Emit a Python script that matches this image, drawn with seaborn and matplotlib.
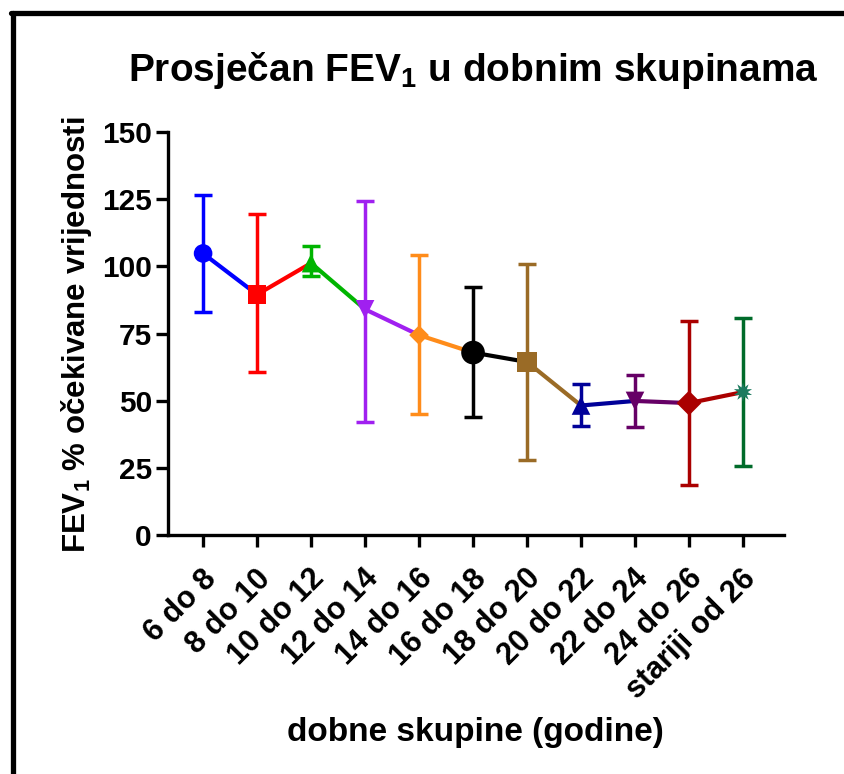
import matplotlib
matplotlib.use("Agg")
import matplotlib.pyplot as plt
import matplotlib.transforms as mtransforms
import seaborn as sns
import pandas as pd
from matplotlib.lines import Line2D

categories = ["6 do 8", "8 do 10", "10 do 12", "12 do 14", "14 do 16", "16 do 18",
              "18 do 20", "20 do 22", "22 do 24", "24 do 26", "stariji od 26"]
mean_vals = [104.8, 89.5, 101.2, 84.0, 74.4, 67.9, 64.4, 48.2, 49.9, 49.1, 53.2]
upper_vals = [126.7, 119.5, 107.5, 124.5, 104.3, 92.4, 100.9, 56.2, 59.6, 79.6, 80.8]
lower_vals = [83.0, 60.7, 96.4, 42.0, 44.9, 43.9, 27.9, 40.6, 40.2, 18.6, 25.8]
y_ticks = [0, 25, 50, 75, 100, 125, 150]

line_colors = ["#0000FF", "#FF0000", "#00B400", "#A020F0", "#FF8C1A", "#000000",
               "#9A6B26", "#000099", "#660066", "#AA0000", "#006B2A"]
marker_colors = ["#0000FF", "#FF0000", "#00B400", "#A020F0", "#FF8C1A", "#000000",
                 "#9A6B26", "#000099", "#660066", "#AA0000", "#1B7A5E"]
marker_shapes = ["o", "s", "^", "v", "D", "o", "s", "^", "v", "D", (10, 1, 0)]
marker_sizes = [180, 180, 180, 180, 100, 290, 220, 180, 180, 160, 190]

sns.set_style("white")
plt.rcParams["font.family"] = ["Liberation Sans", "DejaVu Sans"]
plt.rcParams["font.weight"] = "bold"
for key in ["text.color", "axes.labelcolor", "xtick.color", "ytick.color"]:
    plt.rcParams[key] = "black"
plt.rcParams["mathtext.fontset"] = "custom"
plt.rcParams["mathtext.rm"] = "Liberation Sans:bold"
plt.rcParams["mathtext.it"] = "Liberation Sans:bold"
plt.rcParams["mathtext.bf"] = "Liberation Sans:bold"

fig = plt.figure(figsize=(8.44, 7.74), dpi=100)
ax = fig.add_axes([168 / 844, 1 - 535 / 774, (784 - 168) / 844, (535 - 132) / 774])

x = list(range(len(categories)))
df = pd.DataFrame({"x": x, "mean": mean_vals, "cat": categories})

# error bars
for i in x:
    ax.errorbar([i], [mean_vals[i]],
                yerr=[[mean_vals[i] - lower_vals[i]], [upper_vals[i] - mean_vals[i]]],
                fmt="none", ecolor=line_colors[i], elinewidth=2.5, capsize=6.5,
                capthick=2.5, zorder=3, clip_on=False)

# connecting segments
for i in x[:-1]:
    ax.plot(x[i:i + 2], mean_vals[i:i + 2], color=line_colors[i], lw=3.0,
            zorder=2, solid_capstyle="round")

sns.scatterplot(data=df, x="x", y="mean", hue="cat", style="cat", size="cat",
                palette=dict(zip(categories, marker_colors)),
                markers=dict(zip(categories, marker_shapes)),
                sizes=dict(zip(categories, marker_sizes)),
                edgecolor="none", linewidth=0, legend=False, ax=ax, zorder=4,
                clip_on=False)

ax.set_xlim(-0.65, 10.76)
ax.set_ylim(0, 150)
ax.set_yticks(y_ticks)
ax.set_yticklabels([str(t) for t in y_ticks], fontsize=21.5, fontweight="bold")
ax.set_xticks(x)
ax.set_xticklabels(categories, fontsize=22, fontweight="bold", rotation=45,
                   ha="right", va="top", rotation_mode="anchor")
ax.set_xlabel("")
ax.set_ylabel("")
for s in ["top", "right"]:
    ax.spines[s].set_visible(False)
for s in ["left", "bottom"]:
    ax.spines[s].set_linewidth(2.4)
    ax.spines[s].set_color("black")
ax.tick_params(axis="both", direction="out", length=8.6, width=2.4, color="black",
               left=True, bottom=True)
ax.tick_params(axis="y", pad=3)
ax.tick_params(axis="x", pad=12)
shift = mtransforms.ScaledTranslation(-2 / 100, 0, fig.dpi_scale_trans)
for lab in ax.get_xticklabels():
    lab.set_transform(lab.get_transform() + shift)

fig.text(473 / 844, 1 - 81 / 774, r"Prosječan FEV$_{1}$ u dobnim skupinama",
         ha="center", va="baseline", fontsize=28, fontweight="bold")
fig.text(77 / 844, 1 - 335 / 774, r"FEV$_{1}$ % očekivane vrijednosti",
         ha="center", va="center", rotation=90, fontsize=22.5, fontweight="bold")
fig.text(475 / 844, 1 - 733 / 774, "dobne skupine (godine)",
         ha="center", va="center", fontsize=24, fontweight="bold")

# figure frame (left and top)
fig.add_artist(Line2D([12.5 / 844, 12.5 / 844], [0, 1 - 12.5 / 774],
                      transform=fig.transFigure, color="black", lw=3.8))
fig.add_artist(Line2D([10.5 / 844, 1], [1 - 12.5 / 774, 1 - 12.5 / 774],
                      transform=fig.transFigure, color="black", lw=3.8))

fig.savefig("out.png", dpi=100, facecolor="white")
